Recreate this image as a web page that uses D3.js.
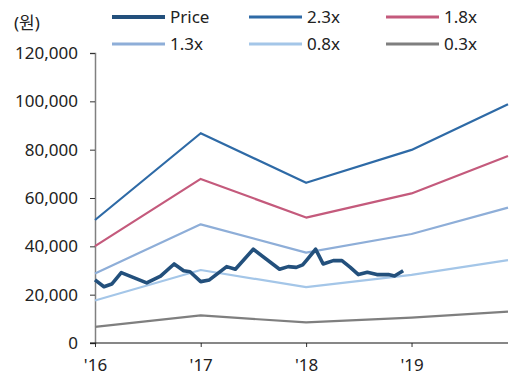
<!DOCTYPE html>
<html>
<head>
<meta charset="utf-8">
<script src="https://cdn.jsdelivr.net/npm/d3@7"></script>
<style>
  body { margin: 0; background: #fff; }
  text { font-family: "Noto Sans", "Noto Sans CJK KR", sans-serif; fill: #222; }
</style>
</head>
<body>
<svg width="513" height="380"></svg>
<script>
// 밴드 기준일 (연초 + 마지막 점)
const bandDates = ["2016-01-01", "2017-01-01", "2018-01-01", "2019-01-01", "2019-12-01"];
const band23 = [50900, 86800, 66300, 79900, 98800];
const band18 = [40100, 67900, 51900, 61900, 77400];
const band13 = [28800, 49100, 37400, 45100, 56000];
const band08 = [17600, 30200, 23100, 28200, 34300];
const band03 = [6700, 11400, 8500, 10500, 13000];

const priceDates = [
  "2016-01-01", "2016-02-01", "2016-02-28", "2016-04-01", "2016-06-28", "2016-08-15",
  "2016-10-01", "2016-11-03", "2016-11-25", "2017-01-01", "2017-01-31", "2017-04-01",
  "2017-05-01", "2017-07-02", "2017-10-01", "2017-10-31", "2017-11-28", "2017-12-20",
  "2018-01-03", "2018-02-03", "2018-03-01", "2018-04-05", "2018-05-05", "2018-06-03",
  "2018-07-01", "2018-08-01", "2018-09-03", "2018-10-13", "2018-11-03", "2018-12-03"
];
const priceValues = [
  26100, 23300, 24400, 29100, 24900, 27700,
  32700, 29900, 29500, 25400, 26100, 31600,
  30500, 38800, 30500, 31600, 31300, 32300,
  34300, 38800, 32700, 34100, 34100, 31300,
  28300, 29300, 28300, 28300, 27700, 29900
];

const yTicks = [0, 20000, 40000, 60000, 80000, 100000, 120000];
const xTickDates = ["2016-01-01", "2017-01-01", "2018-01-01", "2019-01-01"];
const xTickLabels = ["'16", "'17", "'18", "'19"];

const parse = d3.timeParse("%Y-%m-%d");

const series = [
  { name: "Price", dates: priceDates, values: priceValues, color: "#23507c", width: 3.6 },
  { name: "2.3x", dates: bandDates, values: band23, color: "#2e6aa6", width: 2.2 },
  { name: "1.8x", dates: bandDates, values: band18, color: "#c45a7c", width: 2.2 },
  { name: "1.3x", dates: bandDates, values: band13, color: "#8eaed8", width: 2.2 },
  { name: "0.8x", dates: bandDates, values: band08, color: "#a4c6e8", width: 2.2 },
  { name: "0.3x", dates: bandDates, values: band03, color: "#7f7f7f", width: 2.2 }
];

const svg = d3.select("svg");
const x = d3.scaleTime()
  .domain([parse("2016-01-01"), parse("2019-12-01")])
  .range([95, 508]);
const y = d3.scaleLinear().domain([0, 120000]).range([343, 53]);

// y축
const yAxis = svg.append("g")
  .attr("transform", "translate(95,0)")
  .call(d3.axisLeft(y).tickValues(yTicks).tickSize(5).tickPadding(12)
    .tickFormat(d3.format(",")));
yAxis.select(".domain").attr("stroke", "#808080").attr("stroke-width", 1.5);
yAxis.selectAll(".tick line").attr("stroke", "#333");
yAxis.selectAll("text").attr("font-size", 17).attr("fill", "#222");

// x축
const xAxis = svg.append("g")
  .attr("transform", "translate(0,343)")
  .call(d3.axisBottom(x).tickValues(xTickDates.map(parse)).tickSize(4).tickPadding(12)
    .tickFormat((d, i) => xTickLabels[i]));
xAxis.select(".domain").remove();
xAxis.append("line")
  .attr("x1", 90).attr("x2", 508)
  .attr("stroke", "#111").attr("stroke-width", 1.2);
xAxis.selectAll(".tick line").attr("stroke", "#333");
xAxis.selectAll("text").attr("font-size", 17).attr("fill", "#222");

// 선
const line = d3.line()
  .x((d) => x(d[0]))
  .y((d) => y(d[1]));

series.slice().reverse().forEach((s) => {
  const pts = s.dates.map((d, i) => [parse(d), s.values[i]]);
  svg.append("path")
    .datum(pts)
    .attr("fill", "none")
    .attr("stroke", s.color)
    .attr("stroke-width", s.width)
    .attr("stroke-linejoin", "round")
    .attr("d", line);
});

// 단위
svg.append("text")
  .attr("x", 14).attr("y", 23)
  .attr("dy", "0.35em")
  .attr("font-size", 17)
  .text("(원)");

// 범례
const legendX = [112, 249, 386];
const legendY = [17, 44];
series.forEach((s, i) => {
  const lx = legendX[i % 3];
  const ly = legendY[Math.floor(i / 3)];
  svg.append("line")
    .attr("x1", lx).attr("x2", lx + 53)
    .attr("y1", ly).attr("y2", ly)
    .attr("stroke", s.color)
    .attr("stroke-width", i === 0 ? 4 : 3);
  svg.append("text")
    .attr("x", lx + 58).attr("y", ly)
    .attr("dy", "0.35em")
    .attr("font-size", 17)
    .text(s.name);
});
</script>
</body>
</html>
